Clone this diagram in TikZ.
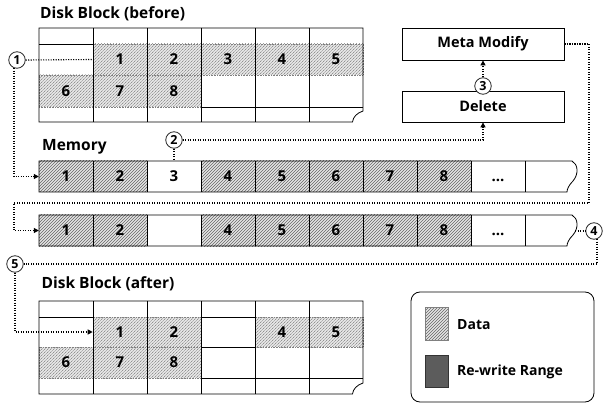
\documentclass[tikz,border=0pt]{standalone}
\usepackage{fontspec}
\setmainfont{Open Sans}
\usetikzlibrary{patterns,arrows.meta,calc}
\definecolor{hatchbg}{gray}{0.9}
\definecolor{hatchfg}{gray}{0.4}
\definecolor{rwfill}{gray}{0.36}
\newcommand\mydots{\vphantom{1}...}
\begin{document}
\begin{tikzpicture}[x=1pt,y=-1pt,
  cell/.style={minimum width=54pt, inner sep=0pt, font=\bfseries\fontsize{15}{15}\selectfont},
  hm/.style={preaction={fill=hatchbg}, pattern=north east lines, pattern color=hatchfg},
  pm/.style={},
  hd/.style={preaction={fill=hatchbg}, pattern=north east lines, pattern color=hatchfg, draw=gray, densely dotted, line width=0.6pt},
  pd/.style={},
  gridline/.style={line width=0.8pt, black},
  flow/.style={line width=1.1pt, dash pattern=on 1.1pt off 1.4pt},
  tip/.style={-{Triangle[length=5pt,width=5pt]}},
  num/.style={circle, draw=black!85, line width=0.8pt, fill=white, inner sep=0pt, minimum size=16.5pt, font=\bfseries\fontsize{12.5}{12.5}\selectfont},
  box/.style={draw, line width=0.8pt, minimum width=162pt, inner sep=0pt, font=\bfseries\fontsize{14.5}{14.5}\selectfont},
  title/.style={anchor=base west, font=\bfseries\fontsize{15.5}{15.5}\selectfont, inner sep=0pt}
]
\useasboundingbox (0,0) rectangle (605,406);

% ---------- Disk Block (before) ----------
\node[title] (tb) at (40,18.5) {Disk Block (before)};
\draw[gridline] (39,44) -- (93,44);
\draw[gridline] (201,107) -- (363,107);
\foreach \c/\t/\s in {1//pd,2/1/hd,3/2/hd,4/3/hd,5/4/hd,6/5/hd}
  \node[cell,minimum height=31pt,\s] (b2\c) at ({39+54*(\c-0.5)},59.5) {\t};
\foreach \c/\t/\s in {1/6/hd,2/7/hd,3/8/hd,4//pd,5//pd,6//pd}
  \node[cell,minimum height=32pt,\s] (b3\c) at ({39+54*(\c-0.5)},91) {\t};
\foreach \x in {93,147,201,255,309}
  \draw[gridline] (\x,28) -- (\x,122);
\draw[gridline] (39,28) -- (363,28) -- (363,111) .. controls (357,113) and (353,117) .. (352.5,122) -- (39,122) -- cycle;

% ---------- Memory ----------
\node[title] (tm) at (42,151) {Memory};
\foreach \c/\t/\s in {1/1/hm,2/2/hm,3/3/pm,4/4/hm,5/5/hm,6/6/hm,7/7/hm,8/8/hm,9/\mydots/pm}
  \node[cell,minimum height=31pt,\s] (m1\c) at ({39+54*(\c-0.5)},176.5) {\t};
\foreach \c/\t/\s in {1/1/hm,2/2/hm,3//pm,4/4/hm,5/5/hm,6/6/hm,7/7/hm,8/8/hm,9/\mydots/pm}
  \node[cell,minimum height=31pt,\s] (m2\c) at ({39+54*(\c-0.5)},230.5) {\t};
\foreach \yt in {161,215}{
  \foreach \x in {93,147,201,255,309,363,417,471,525}
    \draw[gridline] (\x,\yt) -- (\x,\yt+31);
  \draw[gridline] (572,\yt) .. controls (578,\yt+3) and (579,\yt+13) .. (573,\yt+20) .. controls (569,\yt+24) and (567,\yt+28) .. (567,\yt+31) -- (39,\yt+31) -- (39,\yt) -- cycle;
}
\coordinate (m2end) at (575,231);

% ---------- Disk Block (after) ----------
\node[title] (ta) at (41.5,288.5) {Disk Block (after)};
\draw[gridline] (39,317) -- (93,317);
\draw[gridline] (201,317) -- (255,317);
\draw[gridline] (201,347) -- (255,347);
\draw[gridline] (201,378) -- (363,378);
\foreach \c/\t/\s in {1//pd,2/1/hd,3/2/hd,4//pd,5/4/hd,6/5/hd}
  \node[cell,minimum height=30pt,\s] (a2\c) at ({39+54*(\c-0.5)},332) {\t};
\foreach \c/\t/\s in {1/6/hd,2/7/hd,3/8/hd,4//pd,5//pd,6//pd}
  \node[cell,minimum height=31pt,\s] (a3\c) at ({39+54*(\c-0.5)},362.5) {\t};
\foreach \x in {93,147,201,255,309}
  \draw[gridline] (\x,301) -- (\x,394);
\draw[gridline] (39,301) -- (363,301) -- (363,383) .. controls (357,385) and (353,389) .. (352.5,394) -- (39,394) -- cycle;

% ---------- Boxes ----------
\node[box, minimum height=32pt] (meta) at (483,44) {Meta Modify};
\node[box, minimum height=31pt] (del) at (483,106.5) {Delete};

% ---------- Legend ----------
\draw[line width=0.8pt, rounded corners=9pt] (411,292) rectangle (594,402);
\node[draw=gray, line width=0.6pt, preaction={fill=hatchbg}, pattern=north east lines, pattern color=hatchfg, minimum width=23pt, minimum height=33pt, inner sep=0pt] (lg1) at (436.5,323.5) {};
\node[draw=black!80, line width=0.6pt, fill=rwfill, minimum width=23pt, minimum height=32pt, inner sep=0pt] (lg2) at (436.5,371) {};
\node[anchor=west, inner sep=0pt, font=\bfseries\fontsize{14}{14}\selectfont] (ld) at (457,325) {Data};
\node[anchor=west, inner sep=0pt, font=\bfseries\fontsize{14}{14}\selectfont] (lr) at (457,372) {Re-write Range};

% ---------- Numbered circles ----------
\node[num] (c1) at (17,60) {1};
\node[num] (c2) at (174,140) {2};
\node[num] (c4) at (594,231) {4};
\node[num] (c5) at (15,264) {5};

% ---------- Connectors ----------
\draw[flow] (c1.east) -- (b22.west);
\draw[flow,tip] (c1.250) |- (m11.west);
\draw[flow] (c2.south) -- (m13.north);
\draw[flow,tip] (c2.east) -| (del.south);
\coordinate (rt) at (589,203);
\coordinate (lt) at (14,203);
\draw[flow,tip] (meta.east) -| (rt) -- (lt) |- (m21.west);
\draw[flow] (m2end) -- (c4.west);
\draw[flow] (c4.290) |- (c5.east);
\draw[flow,tip] (c5.south) |- (a22.west);
\node[num] (c3) at (483,86) {3};
\draw[flow,tip] (c3.north) -- (meta.south);
\end{tikzpicture}
\end{document}
